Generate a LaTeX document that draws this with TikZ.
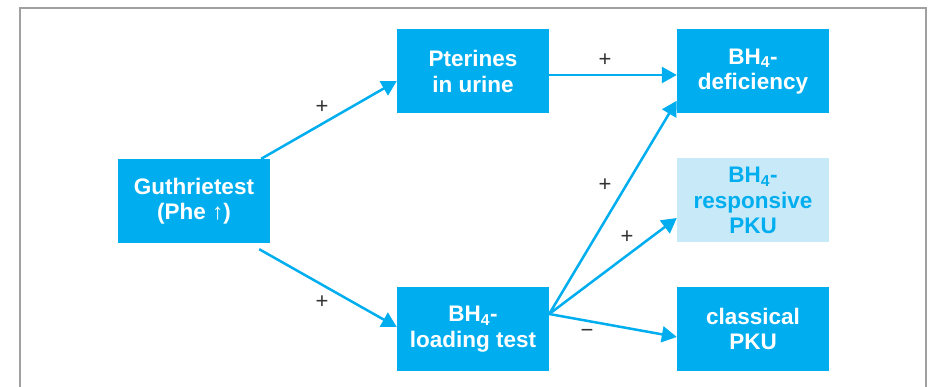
\documentclass[tikz,border=0pt]{standalone}
\usepackage{fontspec}
\setmainfont{Liberation Sans}
\usetikzlibrary{arrows.meta}
\definecolor{cblue}{HTML}{00AEEF}
\definecolor{lblue}{HTML}{C8E9F8}
\definecolor{fgray}{HTML}{A0A0A0}
\definecolor{lgray}{HTML}{333333}
\tikzset{
  box/.style={fill=cblue, text=white, minimum width=152pt, minimum height=84pt,
    inner sep=0pt, align=center, font=\fontsize{22.5}{25.5}\selectfont\bfseries},
  lbox/.style={box, fill=lblue, text=cblue},
  conn/.style={draw=cblue, line width=2.5pt, -{Triangle[length=15pt,width=16pt]}},
  sign/.style={text=lgray, font=\fontsize{22}{24}\selectfont, inner sep=0pt}
}
\begin{document}
\begin{tikzpicture}[x=1pt,y=-1pt]
\useasboundingbox (0,0) rectangle (929,387);
\draw[fgray, line width=1.5pt] (20,387) -- (20,8) -- (926,8) -- (926,387);

\node[box] (G) at (194,201) {Guthrietest\\(Phe ↑)};
\node[box] (P) at (473,71.5) {Pterines\\in urine};
\node[box] (D) at (753,71.5) {BH\textsubscript{4}-\\deficiency};
\node[lbox] (R) at (753,200.5) {BH\textsubscript{4}-\\responsive\\PKU};
\node[box] (L) at (473,329) {BH\textsubscript{4}-\\loading test};
\node[box] (C) at (753,329) {classical\\PKU};

\coordinate (Ls) at ([yshift=15pt]L.east);
\draw[conn] ([xshift=-9pt]G.north east) -- ([yshift=-9.5pt]P.west);
\draw[conn] ([xshift=-11pt,yshift=-6pt]G.south east) -- ([yshift=2pt]L.west);
\draw[conn] ([yshift=-3.5pt]P.east) -- ([yshift=-3.5pt]D.west);
\draw[conn] (Ls) -- ([yshift=13pt]D.south west);
\draw[conn] (Ls) -- ([yshift=-17.5pt]R.west);
\draw[conn] (Ls) -- ([yshift=-8pt]C.west);

\node[sign] (s1) at (322,107) {+};
\node[sign] (s2) at (322,302) {+};
\node[sign] (s3) at (605,60) {+};
\node[sign] (s4) at (605,185) {+};
\node[sign] (s5) at (627,237) {+};
\node[sign] (s6) at (587,333) {−};
\end{tikzpicture}
\end{document}
